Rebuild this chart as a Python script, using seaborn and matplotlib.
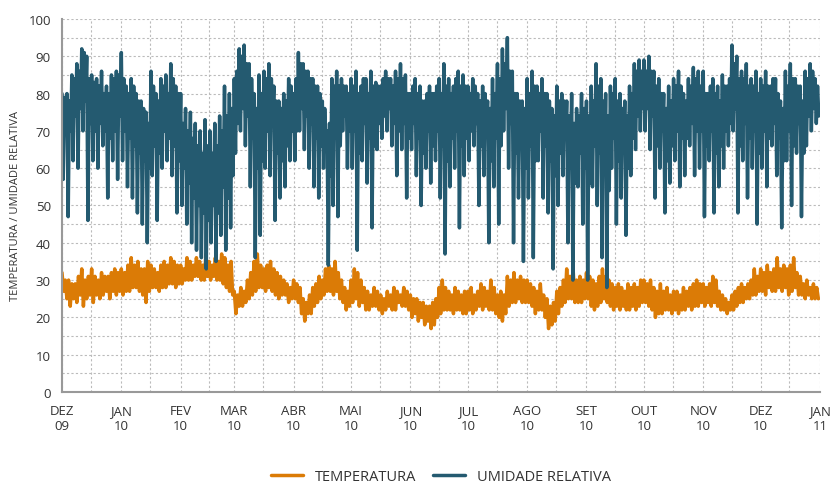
import pandas as pd
import numpy as np
import matplotlib
matplotlib.use('Agg')
import matplotlib.pyplot as plt
import matplotlib.dates as mdates
import seaborn as sns

# valores: picos e vales alternados, mes a mes
meses = ['2009-12', '2010-01', '2010-02', '2010-03', '2010-04', '2010-05', '2010-06',
         '2010-07', '2010-08', '2010-09', '2010-10', '2010-11', '2010-12']
rotulos = ['DEZ\n09', 'JAN\n10', 'FEV\n10', 'MAR\n10', 'ABR\n10', 'MAI\n10', 'JUN\n10',
           'JUL\n10', 'AGO\n10', 'SET\n10', 'OUT\n10', 'NOV\n10', 'DEZ\n10', 'JAN\n11']

umid_dez09 = [80, 57, 79, 72, 80, 47, 78, 70, 85, 62, 84, 74, 88, 60, 86, 76, 92, 70, 91, 78, 90, 46, 84, 72,
              85, 62, 83, 70, 84, 60, 82, 72, 86, 66, 80, 70, 82, 52, 80, 68, 85, 62, 84, 70, 86, 57, 85, 74]
umid_jan10 = [91, 62, 84, 70, 82, 55, 80, 68, 84, 52, 82, 66, 80, 48, 78, 64, 78, 45, 76, 62, 75, 40, 72, 60,
              86, 58, 82, 66, 80, 46, 78, 64, 84, 60, 82, 70, 85, 62, 80, 68, 88, 58, 84, 66, 82, 48, 80, 62]
umid_fev10 = [80, 50, 72, 60, 76, 45, 70, 56, 75, 40, 68, 52, 72, 38, 66, 50, 70, 36, 64, 48, 73, 33,
              66, 46, 70, 40, 64, 50, 72, 35, 66, 48, 74, 42, 70, 55, 82, 38, 74, 52, 80, 44, 76, 58]
umid_mar10 = [84, 64, 86, 72, 92, 70, 90, 76, 93, 66, 88, 74, 88, 55, 84, 68, 80, 36, 76, 60, 85, 42, 80, 62,
              86, 60, 84, 70, 88, 58, 84, 72, 82, 46, 78, 64, 78, 52, 76, 62, 80, 55, 78, 66, 84, 62, 82, 70]
umid_abr10 = [80, 62, 84, 70, 91, 70, 88, 76, 88, 65, 86, 74, 86, 60, 84, 72, 84, 55, 82, 68, 82, 52, 80, 66,
              78, 60, 76, 66, 70, 34, 72, 58, 84, 50, 82, 68, 86, 47, 82, 66, 84, 70, 82, 74, 82, 60, 80, 70]
umid_mai10 = [84, 60, 82, 70, 86, 38, 80, 64, 82, 62, 84, 72, 84, 56, 80, 68, 86, 44, 82, 66, 83, 65, 82, 72,
              82, 68, 84, 74, 86, 70, 84, 76, 84, 66, 82, 72, 86, 58, 84, 70, 88, 65, 84, 72, 85, 52, 80, 68]
umid_jun10 = [80, 65, 82, 72, 84, 58, 80, 68, 82, 50, 78, 64, 78, 60, 80, 70, 82, 56, 80, 66, 80, 62, 82, 70,
              84, 52, 80, 66, 88, 37, 82, 62, 84, 55, 80, 68, 82, 60, 84, 70, 86, 44, 82, 66, 85, 58, 82, 68]
umid_jul10 = [82, 62, 80, 70, 84, 66, 82, 72, 80, 50, 78, 66, 82, 58, 80, 70, 78, 40, 76, 62, 84, 55, 80, 68,
              88, 45, 84, 66, 92, 70, 88, 76, 95, 60, 86, 72, 86, 40, 80, 64, 80, 52, 78, 66, 78, 35, 76, 60]
umid_ago10 = [84, 52, 80, 66, 86, 36, 82, 62, 82, 62, 80, 70, 84, 52, 80, 66, 80, 48, 78, 62, 76, 33, 74, 58,
              82, 50, 78, 64, 80, 58, 78, 68, 78, 40, 74, 60, 80, 30, 72, 56, 76, 55, 74, 64, 80, 45, 76, 60]
umid_set10 = [78, 30, 74, 56, 82, 55, 78, 66, 88, 50, 82, 64, 84, 36, 78, 60, 80, 28, 74, 54, 82, 60, 80, 68,
              84, 45, 78, 62, 80, 52, 76, 64, 78, 42, 74, 60, 82, 58, 80, 68, 88, 65, 86, 74, 89, 70, 86, 76]
umid_out10 = [89, 70, 86, 76, 90, 65, 86, 74, 86, 52, 82, 66, 84, 60, 80, 70, 80, 48, 76, 62, 82, 56, 78, 66,
              84, 62, 82, 70, 86, 55, 82, 68, 80, 58, 78, 68, 84, 66, 82, 72, 87, 58, 84, 70, 86, 60, 82, 70]
umid_nov10 = [86, 47, 80, 66, 80, 62, 82, 70, 84, 48, 80, 64, 82, 55, 78, 66, 85, 60, 82, 70, 82, 66, 84, 72,
              93, 70, 88, 76, 90, 48, 84, 66, 86, 62, 84, 72, 88, 52, 82, 68, 84, 60, 82, 70, 86, 45, 80, 64]
umid_dez10 = [84, 60, 82, 70, 86, 55, 82, 68, 82, 66, 84, 72, 84, 58, 80, 68, 78, 44, 76, 62, 86, 62, 82, 70,
              88, 50, 84, 66, 84, 64, 82, 72, 82, 47, 78, 64, 86, 66, 84, 74, 88, 70, 86, 76, 84, 72, 82, 74]

temp_dez09 = [32, 27, 30, 25, 30, 23, 29, 25, 29, 24, 31, 26, 33, 23, 30, 25, 31, 26,
              33, 24, 31, 26, 30, 25, 32, 26, 31, 27, 31, 25, 32, 27, 33, 26, 32, 27]
temp_jan10 = [33, 26, 32, 27, 34, 27, 36, 28, 34, 28, 35, 27, 33, 26, 33, 24, 35, 27,
              34, 28, 33, 28, 32, 27, 34, 28, 35, 28, 34, 29, 36, 29, 35, 28, 34, 29]
temp_fev10 = [34, 29, 33, 30, 36, 30, 35, 30, 34, 31, 36, 31, 35, 30, 34, 30, 37,
              31, 35, 30, 34, 31, 36, 30, 35, 30, 37, 29, 36, 28, 34, 27, 35, 26]
temp_mar10 = [27, 21, 26, 23, 28, 23, 27, 24, 30, 25, 32, 26, 35, 27, 37, 28, 34, 28,
              33, 27, 34, 28, 35, 27, 33, 26, 32, 25, 31, 26, 30, 26, 29, 24, 28, 25]
temp_abr10 = [30, 25, 29, 24, 28, 21, 25, 19, 24, 21, 26, 21, 28, 23, 29, 24, 31, 25,
              30, 26, 33, 27, 34, 27, 33, 26, 35, 27, 32, 25, 30, 24, 28, 22, 27, 23]
temp_mai10 = [30, 24, 33, 25, 32, 23, 30, 24, 28, 22, 27, 22, 26, 23, 28, 23, 27, 22,
              26, 21, 25, 22, 27, 23, 26, 22, 28, 22, 27, 24, 26, 23, 28, 23, 27, 22]
temp_jun10 = [26, 20, 25, 21, 25, 19, 24, 20, 24, 18, 23, 19, 23, 17, 24, 18, 25, 20,
              28, 21, 30, 22, 28, 22, 27, 22, 26, 21, 28, 22, 27, 22, 26, 21, 27, 21]
temp_jul10 = [27, 22, 28, 21, 26, 22, 27, 23, 29, 22, 28, 23, 27, 22, 30, 22, 28, 21,
              26, 20, 27, 19, 26, 21, 31, 23, 30, 24, 32, 24, 30, 25, 31, 24, 30, 24]
temp_ago10 = [30, 24, 29, 23, 28, 21, 27, 22, 29, 22, 26, 20, 25, 17, 23, 18, 24, 19,
              27, 21, 28, 23, 30, 24, 33, 25, 31, 25, 32, 24, 30, 24, 31, 24, 30, 25]
temp_set10 = [32, 25, 31, 23, 30, 22, 29, 23, 31, 24, 33, 25, 31, 24, 30, 23, 29, 22,
              28, 23, 29, 22, 28, 23, 27, 22, 29, 22, 28, 23, 29, 22, 28, 23, 30, 24]
temp_out10 = [30, 24, 29, 23, 30, 22, 28, 20, 27, 21, 29, 21, 27, 22, 28, 22, 26, 21,
              27, 22, 27, 21, 26, 22, 28, 22, 27, 23, 28, 22, 29, 23, 30, 23, 29, 24]
temp_nov10 = [29, 23, 28, 24, 29, 23, 31, 24, 30, 23, 27, 22, 26, 22, 25, 21, 24, 22,
              26, 22, 27, 23, 28, 24, 29, 24, 28, 25, 29, 25, 30, 26, 33, 26, 31, 27]
temp_dez10 = [33, 27, 32, 26, 34, 28, 32, 27, 33, 27, 36, 28, 33, 27, 34, 28, 33, 26,
              34, 27, 36, 28, 32, 26, 31, 26, 29, 25, 30, 26, 28, 25, 29, 25, 28, 25]

umid = [umid_dez09, umid_jan10, umid_fev10, umid_mar10, umid_abr10, umid_mai10, umid_jun10,
        umid_jul10, umid_ago10, umid_set10, umid_out10, umid_nov10, umid_dez10]
temp = [temp_dez09, temp_jan10, temp_fev10, temp_mar10, temp_abr10, temp_mai10, temp_jun10,
        temp_jul10, temp_ago10, temp_set10, temp_out10, temp_nov10, temp_dez10]


def serie(listas):
    datas, vals = [], []
    for mes, v in zip(meses, listas):
        ini = pd.Timestamp(mes + '-01')
        fim = ini + pd.offsets.MonthBegin(1)
        datas.extend(pd.date_range(ini, fim, periods=len(v) + 1)[:-1])
        vals.extend(v)
    return pd.DataFrame({'data': datas, 'valor': vals})


df_u = serie(umid)
df_t = serie(temp)

sns.set_style('white')
plt.rcParams['font.family'] = ['Open Sans', 'DejaVu Sans']

fig = plt.figure(figsize=(8.32, 4.85), dpi=100)
ax = fig.add_axes([0.0745, 0.1897, 0.9111, 0.7691])

sns.lineplot(data=df_t, x='data', y='valor', color='#DB7B06', linewidth=1.8,
             label='TEMPERATURA', ax=ax)
sns.lineplot(data=df_u, x='data', y='valor', color='#245A70', linewidth=1.8,
             label='UMIDADE RELATIVA', ax=ax)

ax.set_xlim(pd.Timestamp('2009-12-01'), pd.Timestamp('2011-01-01'))
ax.set_ylim(0, 100)
ax.set_yticks(range(0, 101, 10))
ax.set_yticks(range(5, 100, 10), minor=True)
ax.xaxis.set_minor_locator(mdates.MonthLocator(bymonthday=16))
ax.set_xticks(pd.date_range('2009-12-01', '2011-01-01', freq='MS'))
ax.set_xticklabels(rotulos)

ax.grid(True, which='both', linestyle=(0, (2, 2)), color='#bbbbbb', linewidth=0.8)
ax.set_axisbelow(True)
for s in ['top', 'right']:
    ax.spines[s].set_visible(False)
for s in ['left', 'bottom']:
    ax.spines[s].set_color('#999999')
    ax.spines[s].set_linewidth(1.5)
ax.tick_params(axis='both', which='both', length=0, labelsize=9.5, colors='#333333')
ax.tick_params(axis='x', pad=9)
ax.tick_params(axis='y', pad=8)

ax.set_xlabel('')
ax.set_ylabel('TEMPERATURA / UMIDADE RELATIVA', fontsize=8, color='#333333', labelpad=5)

ax.get_legend().remove()
h, l = ax.get_legend_handles_labels()
for hh in h:
    hh.set_linewidth(2.5)
fig.legend(h, l, loc='center', bbox_to_anchor=(0.53, 0.016), ncol=2, frameon=False,
           fontsize=10.5, handlelength=2.2, columnspacing=1.2, labelcolor='#333333')

fig.savefig('out.png', dpi=100)
